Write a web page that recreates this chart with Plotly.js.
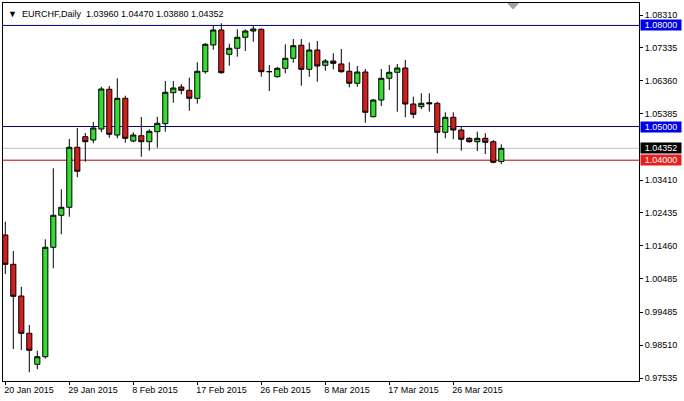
<!DOCTYPE html>
<html><head><meta charset="utf-8">
<script src="https://cdn.plot.ly/plotly-3.0.1.min.js"></script>
<style>html,body{margin:0;padding:0;background:#fff}#chart{width:684px;height:401px}</style>
</head><body><div id="chart"></div>
<script>
const symbol = "EURCHF,Daily";
const dates = ["20 Jan 2015","21 Jan 2015","22 Jan 2015","23 Jan 2015","25 Jan 2015","26 Jan 2015","27 Jan 2015","28 Jan 2015","29 Jan 2015","30 Jan 2015",
"1 Feb 2015","2 Feb 2015","3 Feb 2015","4 Feb 2015","5 Feb 2015","6 Feb 2015","8 Feb 2015","9 Feb 2015","10 Feb 2015","11 Feb 2015",
"12 Feb 2015","13 Feb 2015","15 Feb 2015","16 Feb 2015","17 Feb 2015","18 Feb 2015","19 Feb 2015","20 Feb 2015","22 Feb 2015","23 Feb 2015",
"24 Feb 2015","25 Feb 2015","26 Feb 2015","27 Feb 2015","1 Mar 2015","2 Mar 2015","3 Mar 2015","4 Mar 2015","5 Mar 2015","6 Mar 2015",
"8 Mar 2015","9 Mar 2015","10 Mar 2015","11 Mar 2015","12 Mar 2015","13 Mar 2015","15 Mar 2015","16 Mar 2015","17 Mar 2015","18 Mar 2015",
"19 Mar 2015","20 Mar 2015","22 Mar 2015","23 Mar 2015","24 Mar 2015","25 Mar 2015","26 Mar 2015","27 Mar 2015","29 Mar 2015","30 Mar 2015",
"31 Mar 2015","1 Apr 2015","2 Apr 2015"];
const open = [1.01780,1.00910,0.99969,0.98862,0.97942,0.98167,1.01415,1.02365,1.02602,1.04383,
1.04698,1.04600,1.04926,1.06105,1.04748,1.05837,1.04570,1.04727,1.04549,1.04846,
1.05084,1.06004,1.06173,1.06075,1.05837,1.06627,1.07420,1.07865,1.07143,1.07322,
1.07648,1.07835,1.07886,1.06627,1.06479,1.06728,1.07025,1.07411,1.06698,1.07271,
1.06817,1.06945,1.06856,1.06639,1.06283,1.06618,1.05291,1.05787,1.06431,1.06609,
1.06737,1.05668,1.05588,1.05707,1.05689,1.04828,1.05273,1.04896,1.04650,1.04549,
1.04650,1.04549,1.03960];
const high = [1.02175,1.01305,1.00245,0.99108,0.98345,1.01652,1.03760,1.03136,1.04629,1.04956,
1.04807,1.05134,1.06182,1.06203,1.06431,1.05915,1.04828,1.05282,1.04917,1.05291,
1.06351,1.06351,1.06262,1.06449,1.06906,1.07479,1.08013,1.08064,1.07458,1.07886,
1.07886,1.07984,1.07909,1.06826,1.06775,1.07440,1.07598,1.07598,1.07488,1.07538,
1.07004,1.07173,1.07301,1.06906,1.06796,1.06707,1.05817,1.06707,1.06826,1.06856,
1.06974,1.05885,1.05986,1.05986,1.05736,1.05422,1.05422,1.04994,1.04680,1.04846,
1.04799,1.04600,1.04470];
const low = [1.00622,0.98396,0.98366,0.97704,0.97793,0.98108,1.00791,1.01801,1.02323,1.03493,
1.03956,1.04502,1.04828,1.04668,1.04650,1.04520,1.04531,1.04104,1.04282,1.04371,
1.04846,1.05707,1.05956,1.05469,1.05677,1.06568,1.07280,1.06568,1.06805,1.07072,
1.07241,1.07518,1.06479,1.06054,1.06449,1.06580,1.06894,1.06211,1.06479,1.06330,
1.06657,1.06698,1.06597,1.06164,1.06182,1.05113,1.05273,1.05609,1.06084,1.05440,
1.05273,1.05244,1.05511,1.05440,1.04205,1.04650,1.04620,1.04282,1.04520,1.04273,
1.04184,1.03908,1.03880];
const close = [1.00910,0.99960,0.98862,0.98357,0.98167,1.01415,1.02365,1.02602,1.04383,1.03671,
1.04549,1.04956,1.06114,1.04769,1.05837,1.04650,1.04748,1.04549,1.04858,1.05095,
1.06016,1.06143,1.06075,1.05837,1.06639,1.07440,1.07865,1.06597,1.07322,1.07648,
1.07835,1.07894,1.06627,1.06630,1.06728,1.07025,1.07399,1.06698,1.07271,1.06796,
1.06945,1.06876,1.06627,1.06283,1.06618,1.05422,1.05787,1.06431,1.06609,1.06737,
1.05668,1.05362,1.05689,1.05677,1.04828,1.05273,1.04896,1.04620,1.04549,1.04650,
1.04531,1.03938,1.04352];
const xTickLabels = ["20 Jan 2015","29 Jan 2015","8 Feb 2015","17 Feb 2015","26 Feb 2015","8 Mar 2015","17 Mar 2015","26 Mar 2015"];
const yTickValues = [1.08310,1.07335,1.06360,1.05385,1.03410,1.02435,1.01460,1.00485,0.99485,0.98510,0.97535];
const yTickLabels = ["1.08310","1.07335","1.06360","1.05385","1.03410","1.02435","1.01460","1.00485","0.99485","0.98510","0.97535"];
const levelValues = [1.08000, 1.05000, 1.04352, 1.04000];

const levelStyles = [
  {line:'#000080', box:'#0000e6'},
  {line:'#000080', box:'#0000e6'},
  {line:'#c0c0c0', box:'#000000'},
  {line:'#c00000', box:'#e61e1e'}
];
const FONT = 'Liberation Sans, Arial, sans-serif';
const FS = 9;
const last = open.length - 1;
const header = '\u25BC  ' + symbol + '  ' + [open[last], high[last], low[last], close[last]].map(v => v.toFixed(5)).join(' ');

const trace = {
  type: 'candlestick',
  x: dates, open: open, high: high, low: low, close: close,
  increasing: {line: {color: '#000000', width: 1}, fillcolor: '#32dc32'},
  decreasing: {line: {color: '#000000', width: 1}, fillcolor: '#d21e1e'},
  whiskerwidth: 0,
  hoverinfo: 'none',
  showlegend: false
};

const shapes = levelValues.map((v, i) => ({
  type: 'line', xref: 'paper', x0: 0, x1: 1, yref: 'y', y0: v, y1: v,
  line: {color: levelStyles[i].line, width: 1}, layer: 'below'
}));
// chart-shift marker at the top border
shapes.push({
  type: 'path', xref: 'paper', yref: 'paper',
  path: 'M 0.7925 1 L 0.8115 1 L 0.802 0.983 Z',
  fillcolor: '#a0a0a0', line: {width: 0}
});

const annotations = levelValues.map((v, i) => ({
  xref: 'paper', x: 1, xanchor: 'left', xshift: 1, yref: 'y', y: v, yanchor: 'middle',
  text: v.toFixed(5), showarrow: false, bgcolor: levelStyles[i].box,
  font: {family: FONT, size: FS, color: '#ffffff'}, width: 40, height: 10, borderpad: 0
}));
annotations.push({
  xref: 'paper', yref: 'paper', x: 0, y: 1, xanchor: 'left', yanchor: 'top',
  xshift: 3, yshift: -4, text: header, showarrow: false,
  font: {family: FONT, size: FS, color: '#000000'}
});

const layout = {
  width: 684, height: 401,
  margin: {l: 3, r: 45, t: 3, b: 20, pad: 0},
  paper_bgcolor: '#ffffff', plot_bgcolor: '#ffffff',
  font: {family: FONT, size: FS, color: '#000000'},
  showlegend: false,
  boxgap: 0.2, boxgroupgap: 0.2,
  xaxis: {
    type: 'category', range: [-0.2875, 79.2125], fixedrange: true,
    rangeslider: {visible: false},
    tickmode: 'array', tickvals: xTickLabels, ticktext: xTickLabels,
    tickangle: 0,
    ticks: 'outside', ticklen: 3, tickcolor: '#000000',
    ticklabelposition: 'outside right', ticklabelshift: -2,
    showgrid: false, zeroline: false,
    showline: true, linecolor: '#000000', linewidth: 1, mirror: true,
    tickfont: {family: FONT, size: FS, color: '#000000'}
  },
  yaxis: {
    side: 'right', range: [0.974460, 1.086662], fixedrange: true,
    tickmode: 'array', tickvals: yTickValues, ticktext: yTickLabels,
    ticks: 'outside', ticklen: 3, tickcolor: '#000000',
    showgrid: false, zeroline: false,
    showline: true, linecolor: '#000000', linewidth: 1, mirror: true,
    tickfont: {family: FONT, size: FS, color: '#000000'}
  },
  shapes: shapes,
  annotations: annotations
};

Plotly.newPlot('chart', [trace], layout, {staticPlot: true, displayModeBar: false});
</script>
</body></html>
